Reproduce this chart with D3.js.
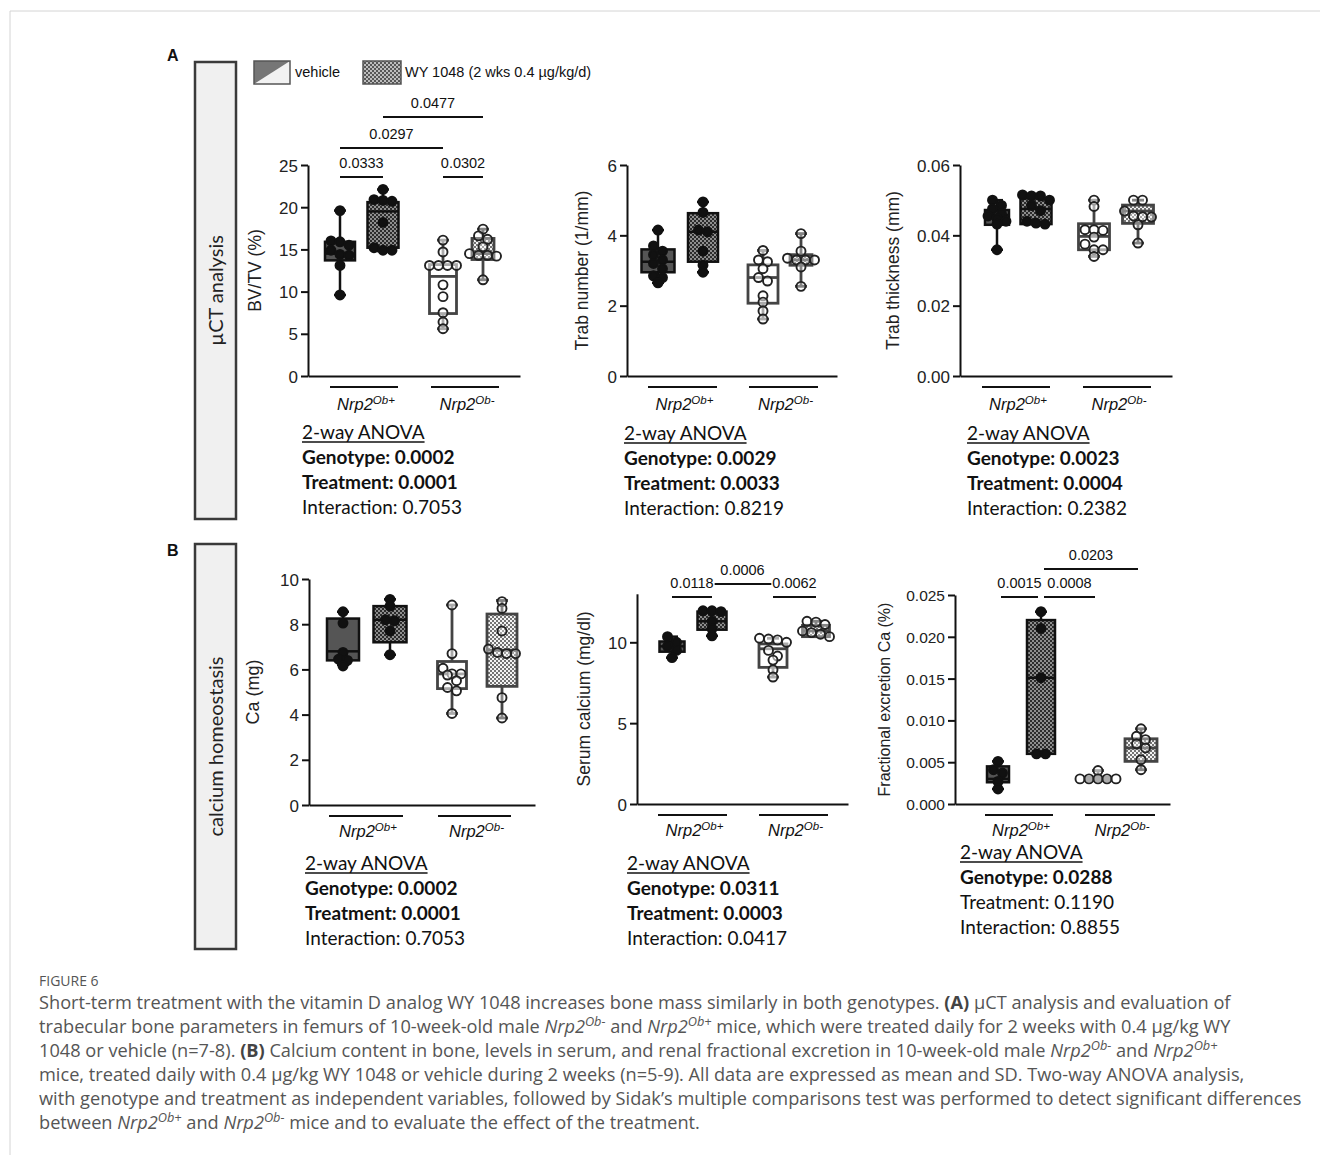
<!DOCTYPE html>
<html><head><meta charset="utf-8">
<script src="https://cdn.jsdelivr.net/npm/d3@7"></script>
<style>body{margin:0;background:#fff}svg{display:block}text{white-space:pre}</style>
</head><body>
<svg id="fig" width="1320" height="1155"></svg>
<script>
// ================= DATA =================
const groups = ["vehicle Nrp2Ob+", "WY 1048 Nrp2Ob+", "vehicle Nrp2Ob-", "WY 1048 Nrp2Ob-"];
const genotypes = ["Ob+", "Ob-"];
const legendLabels = ["vehicle", "WY 1048 (2 wks 0.4 µg/kg/d)"];

// BV/TV (%)
const bvtvPoints = [
  [19.6, 16.0, 15.9, 15.5, 14.9, 14.4, 14.3, 13.1, 9.6],
  [22.1, 20.9, 20.7, 20.8, 18.2, 15.2, 14.9, 14.9],
  [16.1, 14.7, 13.1, 13.1, 13.1, 13.1, 10.8, 9.4, 7.5, 6.4, 5.6],
  [17.4, 16.6, 16.2, 15.3, 14.5, 14.3, 14.3, 14.2, 11.4]
];
const bvtvBoxes = [[9.6, 13.7, 14.5, 15.9, 19.6], [14.8, 15.2, 19.5, 20.6, 22.1], [5.6, 7.4, 11.8, 13.2, 16.1], [11.4, 13.8, 14.5, 16.3, 17.4]];
const bvtvTicks = [0, 5, 10, 15, 20, 25];
const bvtvDomain = [0, 25];
const bvtvBrackets = [
  {a: 0, b: 1, p: "0.0333", level: 0}, {a: 2, b: 3, p: "0.0302", level: 0},
  {a: 0, b: 2, p: "0.0297", level: 1}, {a: 1, b: 3, p: "0.0477", level: 2}
];

// Trab number (1/mm)
const trabPoints = [
  [4.15, 3.7, 3.55, 3.45, 3.3, 3.2, 3.05, 2.85, 2.8, 2.65],
  [4.95, 4.65, 4.15, 4.1, 3.55, 3.15, 2.95],
  [3.57, 3.3, 3.25, 3.05, 2.8, 2.7, 2.28, 2.1, 1.85, 1.62],
  [4.05, 3.55, 3.35, 3.3, 3.3, 3.3, 3.1, 2.55]
];
const trabBoxes = [[2.65, 2.95, 3.25, 3.6, 4.15], [2.95, 3.25, 4.1, 4.63, 4.95], [1.62, 2.07, 2.8, 3.16, 3.57], [2.55, 3.15, 3.3, 3.45, 4.05]];
const trabTicks = [0, 2, 4, 6];
const trabDomain = [0, 6];

// Trab thickness (mm)
const thickPoints = [
  [0.0500, 0.0485, 0.0475, 0.0462, 0.0455, 0.0448, 0.0440, 0.0432, 0.0359],
  [0.0515, 0.0512, 0.0512, 0.0500, 0.0485, 0.0470, 0.0440, 0.0435, 0.0432],
  [0.0500, 0.0482, 0.0416, 0.0416, 0.0414, 0.0395, 0.0375, 0.0359, 0.0359, 0.0340],
  [0.0500, 0.0500, 0.0469, 0.0455, 0.0453, 0.0452, 0.0430, 0.0378]
];
const thickBoxes = [[0.0359, 0.0430, 0.0458, 0.0472, 0.0500], [0.0432, 0.0432, 0.0475, 0.0505, 0.0515], [0.0340, 0.0359, 0.0397, 0.0433, 0.0500], [0.0378, 0.0434, 0.0469, 0.0486, 0.0500]];
const thickTicks = [0, 0.02, 0.04, 0.06];
const thickDomain = [0, 0.06];

// Ca (mg)
const caPoints = [
  [8.55, 8.05, 6.75, 6.45, 6.4, 6.15],
  [9.1, 8.8, 8.2, 8.15, 7.7, 6.65],
  [8.85, 6.7, 6.05, 5.8, 5.75, 5.8, 5.5, 5.2, 5.05, 4.05],
  [9.0, 8.7, 7.7, 6.9, 6.75, 6.7, 6.7, 4.75, 3.85]
];
const caBoxes = [[6.2, 6.4, 6.8, 8.25, 8.55], [6.65, 7.2, 8.2, 8.8, 9.1], [4.05, 5.15, 5.8, 6.35, 8.85], [3.85, 5.25, 6.85, 8.45, 9.05]];
const caTicks = [0, 2, 4, 6, 8, 10];
const caDomain = [0, 10];

// Serum calcium (mg/dl)
const serumPoints = [
  [10.35, 10.0, 9.75, 9.5, 9.05],
  [11.95, 11.95, 11.9, 11.3, 10.85, 10.4],
  [10.25, 10.2, 10.15, 10.0, 9.5, 9.15, 8.9, 8.3, 7.85],
  [11.3, 11.25, 11.1, 10.7, 10.6, 10.5, 10.35]
];
const serumBoxes = [[9.05, 9.42, 9.75, 10.05, 10.35], [10.4, 10.78, 11.3, 11.9, 11.95], [7.85, 8.45, 9.6, 9.9, 10.25], [10.35, 10.35, 10.7, 11.05, 11.3]];
const serumTicks = [0, 5, 10];
const serumDomain = [0, 13];
const serumBrackets = [
  {a: 0, b: 1, p: "0.0118", level: 0}, {a: 2, b: 3, p: "0.0062", level: 0},
  {a: 1, b: 2, p: "0.0006", level: 1}
];

// Fractional excretion Ca (%)
const fracPoints = [
  [0.0051, 0.0041, 0.0037, 0.0027, 0.0018],
  [0.0230, 0.0210, 0.0151, 0.0060, 0.0060],
  [0.0040, 0.0030, 0.0030, 0.0030, 0.0030, 0.0030],
  [0.0090, 0.0081, 0.0077, 0.0072, 0.0067, 0.0053, 0.0041]
];
const fracBoxes = [[0.0018, 0.0026, 0.0030, 0.0045, 0.0051], [0.0060, 0.0060, 0.0151, 0.0220, 0.0230], [0.0028, 0.0028, 0.0030, 0.0032, 0.0040], [0.0041, 0.0051, 0.0067, 0.0078, 0.0090]];
const fracTicks = [0, 0.005, 0.010, 0.015, 0.020, 0.025];
const fracDomain = [0, 0.025];
const fracBrackets = [
  {a: 0, b: 1, p: "0.0015", level: 0}, {a: 1, b: 2, p: "0.0008", level: 0},
  {a: 1, b: 3, p: "0.0203", level: 1}
];

// 2-way ANOVA results (A1, A2, A3, B1, B2, B3)
const anovaGenotype    = [0.0002, 0.0029, 0.0023, 0.0002, 0.0311, 0.0288];
const anovaTreatment   = [0.0001, 0.0033, 0.0004, 0.0001, 0.0003, 0.1190];
const anovaInteraction = [0.7053, 0.8219, 0.2382, 0.7053, 0.0417, 0.8855];

const sectionLabels = ["µCT analysis", "calcium homeostasis"];

const captionTitle = "FIGURE 6";
const captionLines = [
  [["Short-term treatment with the vitamin D analog WY 1048 increases bone mass similarly in both genotypes. "], ["(A)", "b"], [" µCT analysis and evaluation of"]],
  [["trabecular bone parameters in femurs of 10-week-old male "], ["Nrp2", "i"], ["Ob-", "s"], [" and "], ["Nrp2", "i"], ["Ob+", "s"], [" mice, which were treated daily for 2 weeks with 0.4 µg/kg WY"]],
  [["1048 or vehicle (n=7-8). "], ["(B)", "b"], [" Calcium content in bone, levels in serum, and renal fractional excretion in 10-week-old male "], ["Nrp2", "i"], ["Ob-", "s"], [" and "], ["Nrp2", "i"], ["Ob+", "s"]],
  [["mice, treated daily with 0.4 µg/kg WY 1048 or vehicle during 2 weeks (n=5-9). All data are expressed as mean and SD. Two-way ANOVA analysis,"]],
  [["with genotype and treatment as independent variables, followed by Sidak’s multiple comparisons test was performed to detect significant differences"]],
  [["between "], ["Nrp2", "i"], ["Ob+", "s"], [" and "], ["Nrp2", "i"], ["Ob-", "s"], [" mice and to evaluate the effect of the treatment."]]
];

// ================= DRAWING =================
const AX = "'Liberation Sans', Arial, sans-serif";
const CAL = "Lato, 'Open Sans', sans-serif";
const svg = d3.select("#fig");
const defs = svg.append("defs");

function checker(id, base, dot, s) {
  const p = defs.append("pattern").attr("id", id).attr("patternUnits", "userSpaceOnUse")
    .attr("width", s * 2).attr("height", s * 2);
  p.append("rect").attr("width", s * 2).attr("height", s * 2).attr("fill", base);
  p.append("rect").attr("width", s).attr("height", s).attr("fill", dot);
  p.append("rect").attr("x", s).attr("y", s).attr("width", s).attr("height", s).attr("fill", dot);
}
checker("patDark", "#2c2c2c", "#8e8e8e", 2);
checker("patLight", "#f3f3f3", "#737373", 2);
checker("patLegend", "#575757", "#bdbdbd", 2);

const boxStyle = [
  {fill: "#555", stroke: "#111", pFill: "#111", pStroke: "#111", pOp: 1},
  {fill: "url(#patDark)", stroke: "#111", pFill: "#111", pStroke: "#111", pOp: 1},
  {fill: "#fff", stroke: "#444", pFill: "#fff", pStroke: "#222", pOp: 0.55},
  {fill: "url(#patLight)", stroke: "#444", pFill: "#fff", pStroke: "#222", pOp: 0.35}
];

// page frame
svg.append("line").attr("x1", 10).attr("x2", 1320).attr("y1", 11).attr("y2", 11).attr("stroke", "#d4d4d4").attr("stroke-width", 1);
svg.append("line").attr("x1", 10).attr("x2", 10).attr("y1", 11).attr("y2", 1155).attr("stroke", "#d4d4d4").attr("stroke-width", 1);

// panel letters and section boxes
svg.append("text").attr("x", 167).attr("y", 61).attr("font-family", AX).attr("font-weight", "bold").attr("font-size", 16).attr("fill", "#111").text("A");
svg.append("text").attr("x", 167).attr("y", 556).attr("font-family", AX).attr("font-weight", "bold").attr("font-size", 16).attr("fill", "#111").text("B");
[[62, 519], [544, 949]].forEach((r, i) => {
  svg.append("rect").attr("x", 195).attr("y", r[0]).attr("width", 41).attr("height", r[1] - r[0])
    .attr("fill", "#f0f0f0").attr("stroke", "#3a3a3a").attr("stroke-width", 2.5);
  const cy = (r[0] + r[1]) / 2;
  svg.append("text").attr("transform", `translate(216,${cy}) rotate(-90)`).attr("text-anchor", "middle")
    .attr("dy", "0.35em").attr("font-family", CAL).attr("font-size", 20).attr("fill", "#222").text(sectionLabels[i]);
});

// legend
(function () {
  const g = svg.append("g");
  g.append("rect").attr("x", 254).attr("y", 61).attr("width", 36).attr("height", 23).attr("fill", "#f2f2f2");
  g.append("path").attr("d", "M254,61 L290,61 L254,84 Z").attr("fill", "#767676");
  g.append("rect").attr("x", 254).attr("y", 61).attr("width", 36).attr("height", 23).attr("fill", "none").attr("stroke", "#555").attr("stroke-width", 1.5);
  g.append("text").attr("x", 295).attr("y", 77).attr("font-family", AX).attr("font-size", 14.5).attr("fill", "#111").text(legendLabels[0]);
  g.append("rect").attr("x", 363).attr("y", 61).attr("width", 38).attr("height", 23).attr("fill", "url(#patLegend)").attr("stroke", "#555").attr("stroke-width", 1.5);
  g.append("text").attr("x", 405).attr("y", 77).attr("font-family", AX).attr("font-size", 14.5).attr("fill", "#111").text(legendLabels[1]);
})();

function swarmOffsets(vals, y, d) {
  const idx = vals.map((v, i) => ({i, py: y(v)})).sort((a, b) => a.py - b.py);
  const rows = []; let cur = null;
  idx.forEach(p => {
    if (!cur || p.py - cur.start > d * 0.7) { cur = {start: p.py, items: []}; rows.push(cur); }
    cur.items.push(p);
  });
  const off = new Array(vals.length).fill(0);
  rows.forEach(r => { const n = r.items.length; r.items.forEach((p, j) => { off[p.i] = (j - (n - 1) / 2) * d; }); });
  return off;
}

function genoLabel(g, x, yb, geno, size, supSize) {
  const t = g.append("text").attr("x", x).attr("y", yb).attr("text-anchor", "middle")
    .attr("font-family", AX).attr("font-style", "italic").attr("font-size", size).attr("fill", "#111");
  t.append("tspan").text("Nrp2");
  t.append("tspan").attr("dy", -6).attr("font-size", supSize).text(geno);
}

function anovaBlock(x, yb, i) {
  const g = svg.append("g").attr("font-family", CAL).attr("font-size", 19).attr("fill", "#111");
  const t0 = g.append("text").attr("x", x).attr("y", yb).text("2-way ANOVA");
  const w = t0.node().getComputedTextLength();
  g.append("line").attr("x1", x).attr("x2", x + w).attr("y1", yb + 3).attr("y2", yb + 3).attr("stroke", "#111").attr("stroke-width", 1.3);
  const rows = [["Genotype: ", anovaGenotype[i], true], ["Treatment: ", anovaTreatment[i], true], ["Interaction: ", anovaInteraction[i], false]];
  rows.forEach((r, k) => {
    g.append("text").attr("x", x).attr("y", yb + 25 * (k + 1))
      .attr("font-weight", (r[2] && r[1] < 0.05) ? "bold" : "normal")
      .text(r[0] + d3.format(".4f")(r[1]));
  });
}

function drawPanel(c) {
  const g = svg.append("g");
  const y = d3.scaleLinear().domain(c.domain).range([c.y0, c.yTop]);
  const x = d3.scaleOrdinal().domain(groups).range(c.boxX.map(v => c.ox + v));

  // x axis line
  const xl = d3.scaleLinear().range([c.ox, c.xEnd]);
  const xa = g.append("g").attr("transform", `translate(0,${c.y0})`).call(d3.axisBottom(xl).tickValues([]).tickSizeOuter(0));
  xa.select(".domain").attr("stroke", "#111").attr("stroke-width", 2);

  // y axis
  const ya = g.append("g").attr("transform", `translate(${c.ox},0)`)
    .call(d3.axisLeft(y).tickValues(c.ticks).tickFormat(c.fmt).tickSize(7).tickSizeOuter(0));
  ya.select(".domain").attr("stroke", "#111").attr("stroke-width", 2);
  ya.selectAll(".tick line").attr("stroke", "#111").attr("stroke-width", 2);
  ya.selectAll(".tick text").attr("font-family", AX).attr("font-size", c.tickFont).attr("fill", "#222").attr("x", -10).attr("dy", "0.36em");

  // title
  g.append("text").attr("transform", `translate(${c.titleX},${(c.y0 + c.yTop) / 2}) rotate(-90)`)
    .attr("text-anchor", "middle").attr("dy", "0.35em").attr("font-family", AX).attr("font-size", c.titleFont)
    .attr("fill", "#222").text(c.title);

  // boxes
  groups.forEach((grp, i) => {
    const s = boxStyle[i];
    const [mn, q1, md, q3, mx] = c.boxes[i];
    const cx = x(grp), w = c.boxW[i];
    const sw = i < 2 ? 2.5 : 2.8;
    g.append("line").attr("x1", cx).attr("x2", cx).attr("y1", y(mx)).attr("y2", y(mn)).attr("stroke", s.stroke).attr("stroke-width", sw);
    [mx, mn].forEach(v => g.append("line").attr("x1", cx - 6).attr("x2", cx + 6).attr("y1", y(v)).attr("y2", y(v)).attr("stroke", s.stroke).attr("stroke-width", sw));
    g.append("rect").attr("x", cx - w / 2).attr("y", y(q3)).attr("width", w).attr("height", Math.max(1, y(q1) - y(q3)))
      .attr("fill", s.fill).attr("stroke", s.stroke).attr("stroke-width", sw);
    g.append("line").attr("x1", cx - w / 2).attr("x2", cx + w / 2).attr("y1", y(md)).attr("y2", y(md)).attr("stroke", s.stroke).attr("stroke-width", sw);
  });
  // points
  groups.forEach((grp, i) => {
    const s = boxStyle[i];
    const vals = c.points[i];
    const off = swarmOffsets(vals, y, 9);
    g.append("g").selectAll("circle").data(vals).join("circle")
      .attr("cx", (d, k) => x(grp) + off[k]).attr("cy", d => y(d)).attr("r", 4.5)
      .attr("fill", s.pFill).attr("fill-opacity", s.pOp).attr("stroke", s.pStroke).attr("stroke-width", 1.9);
  });

  // genotype underlines & labels
  genotypes.forEach((geno, j) => {
    const [a, b] = c.lines[j];
    g.append("line").attr("x1", c.ox + a).attr("x2", c.ox + b).attr("y1", c.y0 + 11).attr("y2", c.y0 + 11).attr("stroke", "#111").attr("stroke-width", 2);
    genoLabel(g, c.ox + (a + b) / 2 + 2, c.y0 + 11 + c.labelDy, geno, 16.5, 11.5);
  });

  // brackets
  if (c.brackets) {
    c.brackets.forEach(br => {
      const x1 = x(groups[br.a]) + c.inset, x2 = x(groups[br.b]) - c.inset, yl = c.bracketY[br.level];
      g.append("line").attr("x1", x1).attr("x2", x2).attr("y1", yl).attr("y2", yl).attr("stroke", "#111").attr("stroke-width", 2);
    });
    c.brackets.forEach(br => {
      const x1 = x(groups[br.a]) + c.inset, x2 = x(groups[br.b]) - c.inset, yl = c.bracketY[br.level];
      const bg = g.append("rect");
      const t = g.append("text").attr("x", (x1 + x2) / 2).attr("y", yl - 9).attr("text-anchor", "middle")
        .attr("font-family", AX).attr("font-size", 14.5).attr("fill", "#111").text(br.p);
      const bb = t.node().getBBox();
      bg.attr("x", bb.x - 1).attr("y", bb.y + 2).attr("width", bb.width + 2).attr("height", bb.height - 3).attr("fill", "#fff");
    });
  }
  anovaBlock(c.anovaX, c.anovaY, c.anova);
}

const f0 = d3.format("d");
const panels = [
  {points: bvtvPoints, boxes: bvtvBoxes, ticks: bvtvTicks, domain: bvtvDomain, fmt: f0, title: "BV/TV (%)",
   ox: 308, xEnd: 520, y0: 376, yTop: 165, titleX: 255, titleFont: 17.5, tickFont: 17,
   boxX: [32, 75, 135, 175], boxW: [30, 31, 27, 22], lines: [[22, 90], [123, 191]], labelDy: 23,
   brackets: bvtvBrackets, bracketY: [177, 148, 117], inset: 0, anova: 0, anovaX: 302, anovaY: 439},
  {points: trabPoints, boxes: trabBoxes, ticks: trabTicks, domain: trabDomain, fmt: f0, title: "Trab number (1/mm)",
   ox: 627, xEnd: 837, y0: 376, yTop: 165, titleX: 582, titleFont: 17.5, tickFont: 17,
   boxX: [31, 76, 136, 174], boxW: [33, 30, 30, 22], lines: [[21, 90], [122, 191]], labelDy: 23,
   anova: 1, anovaX: 624, anovaY: 440},
  {points: thickPoints, boxes: thickBoxes, ticks: thickTicks, domain: thickDomain, fmt: d3.format(".2f"), title: "Trab thickness (mm)",
   ox: 960, xEnd: 1172, y0: 376, yTop: 165, titleX: 893, titleFont: 17.5, tickFont: 17,
   boxX: [37, 76, 134, 178], boxW: [24, 31, 31, 31], lines: [[22, 90], [123, 191]], labelDy: 23,
   anova: 2, anovaX: 967, anovaY: 440},
  {points: caPoints, boxes: caBoxes, ticks: caTicks, domain: caDomain, fmt: f0, title: "Ca (mg)",
   ox: 309, xEnd: 535, y0: 805, yTop: 579, titleX: 253, titleFont: 18, tickFont: 17,
   boxX: [34, 81, 143, 193], boxW: [32, 33, 29, 30], lines: [[20, 94], [129, 202]], labelDy: 21,
   anova: 3, anovaX: 305, anovaY: 870},
  {points: serumPoints, boxes: serumBoxes, ticks: serumTicks, domain: serumDomain, fmt: f0, title: "Serum calcium (mg/dl)",
   ox: 637, xEnd: 848, y0: 804, yTop: 593.8, titleX: 584, titleFont: 17.5, tickFont: 17,
   boxX: [35, 75, 136, 179], boxW: [25, 29, 28, 27], lines: [[21, 90], [122, 191]], labelDy: 21,
   brackets: serumBrackets, bracketY: [597, 584], inset: 0, anova: 4, anovaX: 627, anovaY: 870},
  {points: fracPoints, boxes: fracBoxes, ticks: fracTicks, domain: fracDomain, fmt: d3.format(".3f"), title: "Fractional excretion Ca (%)",
   ox: 955, xEnd: 1170, y0: 804, yTop: 595, titleX: 884, titleFont: 16, tickFont: 15.5,
   boxX: [43, 86, 143, 186], boxW: [22, 28, 24, 32], lines: [[30, 98], [130, 200]], labelDy: 21,
   brackets: fracBrackets, bracketY: [597, 569], inset: 3, anova: 5, anovaX: 960, anovaY: 859}
];
panels.forEach(drawPanel);

// caption
(function () {
  const g = svg.append("g").attr("font-family", "'Open Sans', sans-serif").attr("fill", "#555");
  g.append("text").attr("x", 39).attr("y", 986).attr("font-size", 14).text(captionTitle);
  const base = 16;
  const texts = captionLines.map((line, li) => {
    const t = g.append("text").attr("x", 39).attr("y", 1009 + li * 24).attr("font-size", base);
    let raised = false;
    line.forEach(seg => {
      const ts = t.append("tspan").text(seg[0]);
      const kind = seg[1];
      if (kind === "s") { ts.attr("font-style", "italic").attr("font-size", base * 0.7).attr("dy", -7); raised = true; }
      else {
        if (raised) { ts.attr("dy", 7); raised = false; }
        if (kind === "i") ts.attr("font-style", "italic");
        if (kind === "b") ts.attr("font-weight", "bold").attr("fill", "#444");
      }
    });
    return t;
  });
  const target = 1263;
  const w = texts[4].node().getComputedTextLength();
  const fs = base * target / w;
  texts.forEach(t => {
    t.attr("font-size", fs);
    t.selectAll("tspan").each(function () {
      const ts = d3.select(this);
      if (ts.attr("font-size")) ts.attr("font-size", fs * 0.7);
    });
  });
})();
</script>
</body></html>
